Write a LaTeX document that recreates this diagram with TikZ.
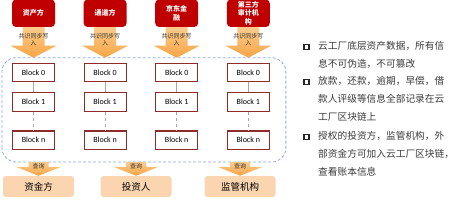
\documentclass[tikz,border=0pt]{standalone}
\usepackage{fontspec}
\setmainfont{Carlito}
\newfontfamily\cjk{Noto Sans CJK SC}
\usetikzlibrary{positioning,calc}
\definecolor{partyred}{HTML}{C00000}
\definecolor{blockline}{HTML}{8E2B2B}
\definecolor{linkgray}{HTML}{A6A6A6}
\definecolor{chainline}{HTML}{8FAADC}
\definecolor{arrowtop}{HTML}{FCCB8C}
\definecolor{arrowbot}{HTML}{F7A545}
\definecolor{userfill}{HTML}{FBD5B0}
\definecolor{notetext}{HTML}{3A3A3A}
% fat downward arrow: from, tip, shaft half width, head half width, head length
\newcommand{\fatdown}[5]{%
 \path[fatarrow] ($(#1)+(-#3,0)$) -- ($(#2)+(-#3,#5)$) -- ($(#2)+(-#4,#5)$) -- (#2)
 -- ($(#2)+(#4,#5)$) -- ($(#2)+(#3,#5)$) -- ($(#1)+(#3,0)$) -- cycle;}

\begin{document}
\begin{tikzpicture}[x=1pt,y=1pt,font=\cjk,
 party/.style={fill=partyred,rounded corners=4pt,minimum width=43pt,minimum height=27.5pt,text=white,
  font=\cjk\bfseries\fontsize{7}{8.5}\selectfont,align=center,inner sep=1pt},
 block/.style={draw=blockline,line width=1.1pt,fill=white,minimum width=42pt,minimum height=18.5pt,
  font=\fontsize{8}{9}\selectfont,inner sep=1pt},
 user/.style={fill=userfill,rounded corners=3pt,minimum width=71pt,minimum height=21pt,
  font=\cjk\fontsize{9.5}{11}\selectfont},
 fatarrow/.style={top color=arrowtop,bottom color=arrowbot},
 tag/.style={font=\cjk\fontsize{6}{7}\selectfont,text=black!80,align=center,inner sep=0pt},
 link/.style={draw=linkgray,line width=1pt},
 chain/.style={draw=chainline,line width=0.8pt,dash pattern=on 3pt off 2pt,rounded corners=14pt},
 note/.style={font=\cjk\fontsize{9.7}{18}\selectfont,text=notetext,align=left,anchor=north west,
  inner sep=0pt,execute at begin node={\rule{0pt}{9pt}}},
 bullet/.style={draw=black!85,line width=1.4pt,minimum size=5pt,inner sep=0pt}]
\useasboundingbox (0,0) rectangle (463,201);

% ledger copies
\node[block] (a0) at (33.5,128.5) {Block 0};
\node[block,below=10pt of a0] (a1) {Block 1};
\node[block,below=18.5pt of a1] (an) {Block n};
\node[block,right=28.5pt of a0] (b0) {Block 0};
\node[block,below=10pt of b0] (b1) {Block 1};
\node[block,below=18.5pt of b1] (bn) {Block n};
\node[block,right=28.5pt of b0] (c0) {Block 0};
\node[block,below=10pt of c0] (c1) {Block 1};
\node[block,below=18.5pt of c1] (cn) {Block n};
\node[block,right=28.5pt of c0] (d0) {Block 0};
\node[block,below=10pt of d0] (d1) {Block 1};
\node[block,below=18.5pt of d1] (dn) {Block n};
\draw[link] (a0) -- (a1); \draw[link,dashed] (a1) -- (an);
\draw[link] (b0) -- (b1); \draw[link,dashed] (b1) -- (bn);
\draw[link] (c0) -- (c1); \draw[link,dashed] (c1) -- (cn);
\draw[link] (d0) -- (d1); \draw[link,dashed] (d1) -- (dn);
\coordinate (chainsw) at ($(an.south west)+(-10,-12)$);
\coordinate (chainne) at ($(dn.north east |- d0.north)+(16,5)$);
\draw[chain] (chainsw) rectangle (chainne);

% writers
\node[party,above=35.5pt of a0] (asset) {资产方};
\node[party,above=35.5pt of b0] (channel) {通道方};
\node[party,above=35.5pt of c0] (jd) {京东金\\融};
\node[party,above=35.5pt of d0] (audit) {第三方\\审计机\\构};
\coordinate (asset tip) at (asset.south |- chainne);
\coordinate (channel tip) at (channel.south |- chainne);
\coordinate (jd tip) at (jd.south |- chainne);
\coordinate (audit tip) at (audit.south |- chainne);
\fatdown{asset.south}{asset tip}{11}{23}{12}
\fatdown{channel.south}{channel tip}{11}{23}{12}
\fatdown{jd.south}{jd tip}{11}{23}{12}
\fatdown{audit.south}{audit tip}{11}{23}{12}
\node[tag] (asset tag) at ($(asset.south)+(0,-13)$) {共识同步写\\入};
\node[tag] (channel tag) at ($(channel.south)+(0,-13)$) {共识同步写\\入};
\node[tag] (jd tag) at ($(jd.south)+(0,-13)$) {共识同步写\\入};
\node[tag] (audit tag) at ($(audit.south)+(0,-13)$) {共识同步写\\入};

% readers
\node[user] (fund) at (38.5,14.5) {资金方};
\node[user] (investor) at (136,14.5) {投资人};
\node[user] (regulator) at (240,14.5) {监管机构};
\coordinate (fund src) at (fund.north |- chainsw);
\coordinate (investor src) at (investor.north |- chainsw);
\coordinate (regulator src) at (regulator.north |- chainsw);
\fatdown{fund src}{fund.north}{10}{22.5}{9}
\fatdown{investor src}{investor.north}{10}{22.5}{9}
\fatdown{regulator src}{regulator.north}{10}{22.5}{9}
\node[tag] (fund tag) at ($(fund src)+(0,-4.5)$) {查询};
\node[tag] (investor tag) at ($(investor src)+(0,-4.5)$) {查询};
\node[tag] (regulator tag) at ($(regulator src)+(0,-4.5)$) {查询};

% notes
\node[note] (note1) at (318,159.5) {云工厂底层资产数据，所有信\\息不可伪造，不可篡改};
\node[note] (note2) at (318,124.5) {放款，还款，逾期，早偿，借\\款人评级等信息全部记录在云\\工厂区块链上};
\node[note] (note3) at (318,69.5) {授权的投资方，监管机构，外\\部资金方可加入云工厂区块链，\\查看账本信息};
\node[bullet] (mark1) at ($(note1.north west)+(-11.5,-5.5)$) {};
\node[bullet] (mark2) at ($(note2.north west)+(-11.5,-5.5)$) {};
\node[bullet] (mark3) at ($(note3.north west)+(-11.5,-5.5)$) {};
\end{tikzpicture}
\end{document}
